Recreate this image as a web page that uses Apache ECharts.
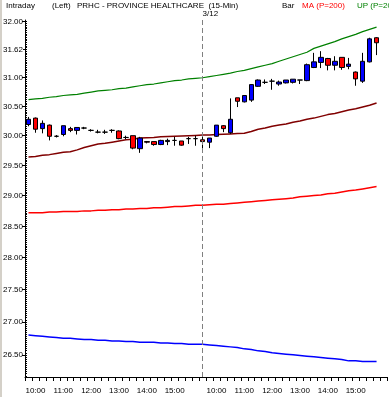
<!DOCTYPE html>
<html><head><meta charset="utf-8">
<script src="https://cdn.jsdelivr.net/npm/echarts@6/dist/echarts.min.js"></script>
<style>html,body{margin:0;padding:0;background:#fff}#c{width:389px;height:397px}</style>
</head><body><div id="c"></div>
<script>
// ---- data ----
const day1Times = ['09:45','10:00','10:15','10:30','10:45','11:00','11:15','11:30','11:45','12:00','12:15','12:30','12:45','13:00','13:15','13:30','13:45','14:00','14:15','14:30','14:45','15:00','15:15','15:30','15:45'];
const day2Times = ['09:30','09:45','10:00','10:15','10:30','10:45','11:00','11:15','11:30','11:45','12:00','12:15','12:30','12:45','13:00','13:15','13:30','13:45','14:00','14:15','14:30','14:45','15:00','15:15','15:30','15:45'];
const hourLabels = ['10:00','11:00','12:00','13:00','14:00','15:00'];
const dayBreakLabel = '3/12';
const yTickValues = [26.5,27.0,27.5,28.0,28.5,29.0,29.5,30.0,30.5,31.0,31.5,32.0];
const lastPrice = 31.62;

const opens  = [30.19,30.30,30.12,30.18,29.99,30.02,30.12,30.09,30.13,30.09,30.06,30.06,30.09,30.08,29.97,30.00,29.78,29.90,29.90,29.85,29.90,29.92,29.91,29.95,29.95,
                29.93,29.89,29.99,30.17,30.05,30.65,30.58,30.61,30.85,30.92,30.94,30.89,30.91,30.92,30.96,30.95,31.18,31.27,31.34,31.22,31.36,31.20,31.10,30.94,31.28,31.71];
const closes = [30.28,30.11,30.21,29.99,29.99,30.17,30.09,30.14,30.13,30.09,30.06,30.06,30.09,29.95,29.97,29.79,29.96,29.89,29.85,29.92,29.92,29.92,29.84,29.95,29.95,
                29.90,29.96,30.18,30.12,30.28,30.59,30.69,30.88,30.96,30.92,30.94,30.925,30.96,30.975,30.96,31.23,31.28,31.36,31.22,31.29,31.18,31.24,30.98,31.29,31.69,31.62];
const lows   = [30.16,30.05,30.04,29.92,29.97,29.99,30.06,30.02,30.11,30.07,30.04,30.03,30.05,29.94,29.94,29.77,29.71,29.87,29.83,29.84,29.84,29.83,29.83,29.86,29.83,
                29.71,29.79,29.98,30.06,30.03,30.49,30.57,30.58,30.84,30.89,30.79,30.86,30.90,30.90,30.89,30.94,31.17,31.17,31.13,31.13,31.14,31.15,30.86,30.91,31.27,31.40];
const highs  = [30.32,30.31,30.26,30.19,30.01,30.17,30.15,30.14,30.15,30.11,30.10,30.10,30.11,30.09,30.00,30.00,29.98,29.91,29.90,29.93,29.95,29.98,29.91,29.98,30.00,
                30.00,29.96,30.18,30.18,30.64,30.65,30.69,30.89,30.97,30.97,30.98,30.95,30.96,30.975,30.96,31.25,31.44,31.47,31.35,31.38,31.36,31.35,31.11,31.44,31.71,31.72];

const upBand = [30.62,30.63,30.64,30.66,30.67,30.69,30.70,30.71,30.73,30.75,30.77,30.78,30.79,30.81,30.82,30.84,30.86,30.88,30.89,30.91,30.93,30.95,30.96,30.98,30.99,
                31.00,31.02,31.04,31.06,31.08,31.11,31.13,31.16,31.19,31.22,31.25,31.29,31.33,31.37,31.41,31.45,31.52,31.56,31.60,31.64,31.69,31.73,31.77,31.82,31.86,31.90];
const midLine = [29.64,29.65,29.67,29.68,29.70,29.72,29.73,29.76,29.80,29.83,29.86,29.87,29.89,29.91,29.93,29.94,29.96,29.965,29.97,29.98,29.985,29.99,29.995,30.00,30.005,
                30.01,30.01,30.02,30.025,30.03,30.035,30.04,30.07,30.11,30.13,30.16,30.18,30.20,30.23,30.25,30.28,30.30,30.33,30.36,30.38,30.41,30.44,30.46,30.49,30.52,30.56];
const ma200 = [28.72,28.72,28.72,28.73,28.73,28.74,28.74,28.74,28.75,28.75,28.76,28.76,28.77,28.77,28.78,28.78,28.79,28.79,28.80,28.80,28.81,28.82,28.82,28.83,28.84,
               28.84,28.85,28.86,28.86,28.87,28.88,28.89,28.90,28.91,28.92,28.93,28.94,28.95,28.96,28.98,28.99,29.00,29.01,29.03,29.04,29.06,29.08,29.09,29.11,29.13,29.15];
const lowBand = [26.80,26.79,26.78,26.77,26.76,26.75,26.75,26.74,26.73,26.73,26.72,26.72,26.71,26.71,26.70,26.70,26.69,26.69,26.69,26.68,26.68,26.67,26.67,26.66,26.66,
                 26.66,26.65,26.64,26.63,26.62,26.61,26.59,26.58,26.56,26.55,26.53,26.52,26.51,26.50,26.49,26.48,26.47,26.46,26.45,26.44,26.43,26.41,26.41,26.40,26.40,26.40];

// ---- build ----
const categories = day1Times.map(t => '1|' + t).concat(day2Times.map(t => '2|' + t)).concat(['3|']);
const L = Math.log;
const candleData = opens.map((o, i) => [L(o), L(closes[i]), L(lows[i]), L(highs[i])]);
const lnArr = a => a.map(L);
const yMin = L(26.17), yMax = L(32.03);
const minorTicks = [];
for (let v = 26.1875; v <= 32.03; v += 0.03125) minorTicks.push(L(v));
const FONT = 'Liberation Sans';

const chart = echarts.init(document.getElementById('c'), null, {renderer: 'canvas'});
chart.setOption({
  animation: false,
  backgroundColor: '#fff',
  textStyle: {fontFamily: FONT},
  grid: {left: 23, right: 2, top: 20, bottom: 20, containLabel: false},
  graphic: [
    {type: 'rect', left: 0, top: 0, shape: {width: 2, height: 397}, style: {fill: '#d4d0c8'}},
    {type: 'text', left: 6, top: 2, style: {text: 'Intraday', fontSize: 8, fontFamily: FONT, fill: '#000'}},
    {type: 'text', left: 52, top: 2, style: {text: '(Left)', fontSize: 8, fontFamily: FONT, fill: '#000'}},
    {type: 'text', left: 77, top: 2, style: {text: 'PRHC - PROVINCE HEALTHCARE  (15-Min)', fontSize: 8, fontFamily: FONT, fill: '#000'}},
    {type: 'text', left: 282, top: 2, style: {text: 'Bar', fontSize: 8, fontFamily: FONT, fill: '#000'}},
    {type: 'text', left: 302, top: 2, style: {text: 'MA (P=200)', fontSize: 8, fontFamily: FONT, fill: '#ff0000'}},
    {type: 'text', left: 357, top: 2, style: {text: 'UP (P=20)', fontSize: 8, fontFamily: FONT, fill: '#008000'}}
  ],
  xAxis: {
    type: 'category', data: categories, boundaryGap: true,
    axisLine: {lineStyle: {color: '#000', width: 1}},
    axisTick: {show: true, length: 4, interval: 0, lineStyle: {color: '#000'}},
    axisLabel: {
      interval: (idx, val) => hourLabels.indexOf(val.split('|')[1]) >= 0,
      formatter: val => val.split('|')[1],
      fontSize: 8, fontFamily: FONT, color: '#000', margin: 10
    },
    splitLine: {show: false}
  },
  yAxis: [{
    type: 'value', min: yMin, max: yMax, position: 'left', scale: true,
    axisLine: {show: true, lineStyle: {color: '#000', width: 1}},
    axisTick: {show: true, customValues: yTickValues.map(L), length: 3, inside: false, lineStyle: {color: '#000'}},
    axisLabel: {customValues: yTickValues.map(L), formatter: v => Math.exp(v).toFixed(2), fontSize: 8, fontFamily: FONT, color: '#000', margin: 2},
    splitLine: {show: false}
  }, {
    type: 'value', min: yMin, max: yMax, position: 'left', offset: 0,
    axisLine: {show: false},
    axisTick: {show: true, customValues: minorTicks, length: 2, inside: true, lineStyle: {color: '#000'}},
    axisLabel: {show: false},
    splitLine: {show: false}
  }],
  series: [
    {type: 'line', data: lnArr(upBand), symbol: 'none', lineStyle: {color: '#008000', width: 1.2}, z: 2, silent: true,
     markLine: {silent: true, symbol: ['none', 'none'], animation: false,
       lineStyle: {color: '#808080', type: [5, 3], width: 1},
       label: {show: true, position: 'end', formatter: dayBreakLabel, align: 'left', distance: 2, fontSize: 8, fontFamily: FONT, color: '#000'},
       data: [{xAxis: categories[day1Times.length]}]}},
    {type: 'line', data: lnArr(midLine), symbol: 'none', lineStyle: {color: '#800000', width: 1.5}, z: 2, silent: true},
    {type: 'line', data: lnArr(ma200), symbol: 'none', lineStyle: {color: '#ff0000', width: 1.5}, z: 2, silent: true},
    {type: 'line', data: lnArr(lowBand), symbol: 'none', lineStyle: {color: '#0000ff', width: 1.5}, z: 2, silent: true},
    {type: 'candlestick', data: candleData, barWidth: 5, z: 3, silent: true,
     itemStyle: {color: '#0000ff', color0: '#ff0000', borderColor: '#000', borderColor0: '#000', borderColorDoji: '#000', borderWidth: 1},
     markLine: {silent: true, symbol: ['none', 'none'], animation: false,
       lineStyle: {color: 'rgba(0,0,0,0)', width: 1},
       label: {show: true, position: 'start', formatter: lastPrice.toFixed(2), distance: 2, fontSize: 8, fontFamily: FONT, color: '#000', backgroundColor: '#fff', padding: [1, 0, 0, 1]},
       data: [{yAxis: L(lastPrice)}]}}
  ]
});
</script></body></html>
